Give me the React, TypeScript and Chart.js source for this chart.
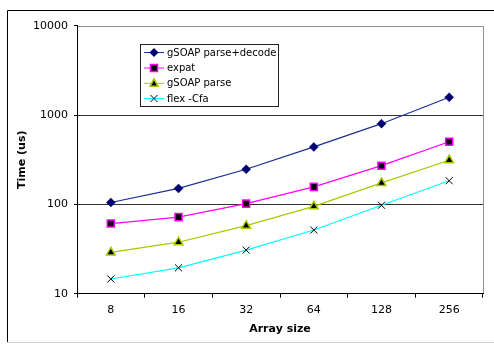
import React, { useEffect, useRef } from "react";
import { Chart, registerables } from "chart.js";

Chart.register(...registerables);

const categories = ["8", "16", "32", "64", "128", "256"];
const gsoapParseDecode = [105, 151, 247, 440, 800, 1580];
const expat = [61, 72, 102, 157, 271, 503];
const gsoapParse = [29, 37.7, 57.7, 95, 174, 312];
const flexCfa = [14.6, 19.5, 30.8, 51.6, 97.7, 184];
const yTicks = [10, 100, 1000, 10000];
const seriesNames = ["gSOAP parse+decode", "expat", "gSOAP parse", "flex -Cfa"];

const FONT = "'DejaVu Sans', Verdana, sans-serif";

function drawMarker(ctx: CanvasRenderingContext2D, kind: number, x: number, y: number) {
  ctx.save();
  if (kind === 0) {
    ctx.fillStyle = "#000070";
    ctx.beginPath();
    ctx.moveTo(x, y - 4.5);
    ctx.lineTo(x + 4.5, y);
    ctx.lineTo(x, y + 4.5);
    ctx.lineTo(x - 4.5, y);
    ctx.closePath();
    ctx.fill();
  } else if (kind === 1) {
    ctx.fillStyle = "#000";
    ctx.strokeStyle = "#ff00ff";
    ctx.lineWidth = 1.5;
    ctx.fillRect(x - 3.5, y - 3.5, 7, 7);
    ctx.strokeRect(x - 3.5, y - 3.5, 7, 7);
  } else if (kind === 2) {
    ctx.fillStyle = "#000";
    ctx.strokeStyle = "#a8c800";
    ctx.lineWidth = 1.5;
    ctx.beginPath();
    ctx.moveTo(x, y - 4.5);
    ctx.lineTo(x + 4, y + 3);
    ctx.lineTo(x - 4, y + 3);
    ctx.closePath();
    ctx.fill();
    ctx.stroke();
  } else {
    ctx.strokeStyle = "#000";
    ctx.lineWidth = 1;
    ctx.beginPath();
    ctx.moveTo(x - 3.5, y - 3.5);
    ctx.lineTo(x + 3.5, y + 3.5);
    ctx.moveTo(x + 3.5, y - 3.5);
    ctx.lineTo(x - 3.5, y + 3.5);
    ctx.stroke();
  }
  ctx.restore();
}

const lineColors = ["#1c2e94", "#ff00ff", "#a8c800", "#00ffff"];

const framePlugin = {
  id: "frame",
  beforeDraw(chart: any) {
    const ctx = chart.ctx as CanvasRenderingContext2D;
    ctx.save();
    ctx.fillStyle = "#fff";
    ctx.fillRect(0, 0, chart.width, chart.height);
    ctx.strokeStyle = "#000";
    ctx.lineWidth = 1;
    ctx.beginPath();
    ctx.moveTo(7.5, 342);
    ctx.lineTo(7.5, 10.5);
    ctx.lineTo(494, 10.5);
    ctx.stroke();
    ctx.strokeStyle = "#d0d0d0";
    ctx.beginPath();
    ctx.moveTo(7, 342.5);
    ctx.lineTo(494, 342.5);
    ctx.stroke();
    const a = chart.chartArea;
    ctx.strokeStyle = "#909090";
    ctx.lineWidth = 1;
    ctx.beginPath();
    ctx.moveTo(a.left, Math.round(a.top) + 0.5);
    ctx.lineTo(Math.round(a.right) + 0.5, Math.round(a.top) + 0.5);
    ctx.lineTo(Math.round(a.right) + 0.5, a.bottom);
    ctx.stroke();
    ctx.restore();
  },
};

const legendPlugin = {
  id: "boxLegend",
  afterDraw(chart: any) {
    const ctx = chart.ctx as CanvasRenderingContext2D;
    ctx.save();
    ctx.fillStyle = "#fff";
    ctx.fillRect(140.5, 44.5, 138, 62);
    ctx.strokeStyle = "#222";
    ctx.lineWidth = 1;
    ctx.strokeRect(140.5, 44.5, 138, 62);
    ctx.font = `10px ${FONT}`;
    ctx.textBaseline = "middle";
    ctx.textAlign = "left";
    const ys = [52.5, 68, 83.3, 98.5];
    seriesNames.forEach((name, i) => {
      const y = ys[i];
      ctx.strokeStyle = lineColors[i];
      ctx.lineWidth = 1;
      ctx.beginPath();
      ctx.moveTo(144, y);
      ctx.lineTo(164, y);
      ctx.stroke();
      drawMarker(ctx, i, 154, y);
      ctx.fillStyle = "#000";
      ctx.fillText(name, 167, y + 0.5);
    });
    ctx.restore();
  },
};

export default function App() {
  const ref = useRef<HTMLCanvasElement | null>(null);
  useEffect(() => {
    if (!ref.current) return;
    const chart = new Chart(ref.current, {
      type: "line",
      data: {
        labels: categories,
        datasets: [
          {
            label: seriesNames[0],
            data: gsoapParseDecode,
            borderColor: lineColors[0],
            borderWidth: 1.2,
            pointStyle: "rectRot",
            pointRadius: 4.5,
            pointBackgroundColor: "#000070",
            pointBorderColor: "#000070",
            pointBorderWidth: 0.5,
          },
          {
            label: seriesNames[1],
            data: expat,
            borderColor: lineColors[1],
            borderWidth: 1.2,
            pointStyle: "rect",
            pointRadius: 5,
            pointBackgroundColor: "#000",
            pointBorderColor: "#ff00ff",
            pointBorderWidth: 1.5,
          },
          {
            label: seriesNames[2],
            data: gsoapParse,
            borderColor: lineColors[2],
            borderWidth: 1.2,
            pointStyle: "triangle",
            pointRadius: 5,
            pointBackgroundColor: "#000",
            pointBorderColor: "#a8c800",
            pointBorderWidth: 1.5,
          },
          {
            label: seriesNames[3],
            data: flexCfa,
            borderColor: lineColors[3],
            borderWidth: 1.2,
            pointStyle: "crossRot",
            pointRadius: 5,
            pointBackgroundColor: "#000",
            pointBorderColor: "#000",
            pointBorderWidth: 1,
          },
        ],
      },
      options: {
        animation: false,
        responsive: false,
        devicePixelRatio: 1,
        layout: { padding: { top: 25.7, right: 11, left: 0, bottom: 0 } },
        plugins: {
          legend: { display: false },
          tooltip: { enabled: false },
        },
        elements: { line: { tension: 0 } },
        scales: {
          x: {
            type: "category",
            offset: true,
            afterFit: (s: any) => {
              s.height = 344 - 25.7 - 268;
            },
            grid: {
              offset: true,
              drawOnChartArea: false,
              drawTicks: true,
              tickLength: 4,
              color: "#000",
            },
            border: { color: "#000", width: 1 },
            ticks: {
              color: "#000",
              padding: 6,
              font: { family: FONT, size: 11 },
              maxRotation: 0,
            },
            title: {
              display: true,
              text: "Array size",
              color: "#000",
              font: { family: FONT, size: 11, weight: "bold" },
              padding: { top: 0, bottom: 8.4 },
            },
          },
          y: {
            type: "logarithmic",
            min: 10,
            max: 10000,
            afterFit: (s: any) => {
              s.width = 77;
            },
            afterBuildTicks: (s: any) => {
              s.ticks = yTicks.map((v) => ({ value: v }));
            },
            grid: {
              drawTicks: true,
              tickLength: 3,
              tickColor: "#000",
              color: (c: any) =>
                c.tick && (c.tick.value === 100 || c.tick.value === 1000)
                  ? "#333"
                  : "rgba(0,0,0,0)",
              lineWidth: 1,
            },
            border: { color: "#000", width: 1 },
            ticks: {
              color: "#000",
              padding: 6,
              font: { family: FONT, size: 11 },
              callback: (v: any) => String(v),
            },
            title: {
              display: true,
              text: "Time (us)",
              color: "#000",
              font: { family: FONT, size: 11, weight: "bold" },
              padding: { top: 15.4, bottom: 0 },
            },
          },
        },
      },
      plugins: [framePlugin, legendPlugin],
    } as any);
    return () => chart.destroy();
  }, []);
  return (
    <div style={{ position: "fixed", left: 0, top: 0, width: 494, height: 344 }}>
      <canvas ref={ref} width={494} height={344} style={{ width: 494, height: 344, display: "block" }} />
    </div>
  );
}
